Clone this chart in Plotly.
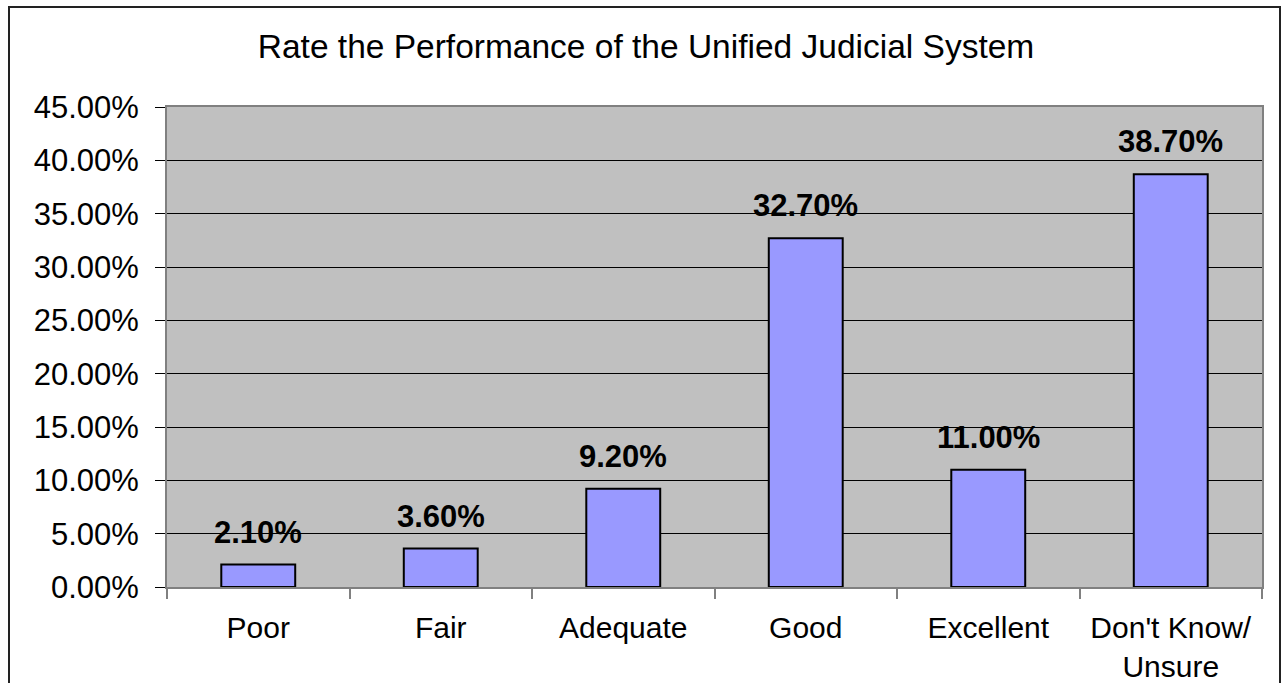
import plotly.graph_objects as go

categories = ["Poor", "Fair", "Adequate", "Good", "Excellent", "Don't Know/<br>Unsure"]
values = [0.021, 0.036, 0.092, 0.327, 0.110, 0.387]
title_text = "Rate the Performance of the Unified Judicial System"

FONT = "Liberation Sans, Arial, sans-serif"

fig = go.Figure()
fig.add_trace(go.Bar(
    x=categories, y=values,
    marker=dict(color="#9999FF", line=dict(color="#000000", width=2)),
    hoverinfo="skip",
))

for c, v in zip(categories, values):
    fig.add_annotation(
        x=c, y=v, xref="x", yref="y", text=f"<b>{v:.2%}</b>",
        showarrow=False, yanchor="bottom", yshift=13,
        font=dict(family=FONT, size=31, color="#000000"),
    )

L, R, T, B = 167, 25, 107, 96
W, H = 1287, 683
pw, ph = W - L - R, H - T - B
fig.add_shape(
    type="rect", xref="paper", yref="paper",
    x0=(9 - L) / pw, x1=(1280 - L) / pw,
    y0=-(H + 10 - (T + ph)) / ph, y1=(T + ph - 7) / ph,
    line=dict(color="#222222", width=2), fillcolor="rgba(0,0,0,0)", layer="above",
)

fig.update_layout(
    width=W, height=H,
    margin=dict(l=L, r=R, t=T, b=B, autoexpand=False),
    paper_bgcolor="#FFFFFF", plot_bgcolor="#C0C0C0",
    font=dict(family=FONT, size=30, color="#000000"),
    title=dict(text=title_text, x=646 / W, xanchor="center", xref="container",
               y=1 - 46 / H, yanchor="middle", yref="container",
               font=dict(family=FONT, size=33.5, color="#000000")),
    bargap=0.595,
    showlegend=False,
    xaxis=dict(
        automargin=False,
        showgrid=False, showline=True, linecolor="#808080", linewidth=2, mirror=True,
        ticks="outside", tickson="boundaries", ticklen=10, tickcolor="#808080", tickwidth=2,
        ticklabelstandoff=13,
        tickfont=dict(family=FONT, size=30, color="#000000"),
    ),
    yaxis=dict(
        automargin=False,
        range=[0, 0.45], dtick=0.05, tickformat=".2%",
        showgrid=True, gridcolor="#000000", gridwidth=1, zeroline=False,
        showline=True, linecolor="#808080", linewidth=2, mirror=True,
        ticks="outside", ticklen=10, tickcolor="#000000", tickwidth=1,
        ticklabelstandoff=10,
        tickfont=dict(family=FONT, size=31, color="#000000"),
    ),
)

fig.write_html(
    "out.html",
    config=dict(displayModeBar=False, responsive=False),
    post_script="document.body.style.margin='0px';document.body.style.overflow='hidden';",
)
